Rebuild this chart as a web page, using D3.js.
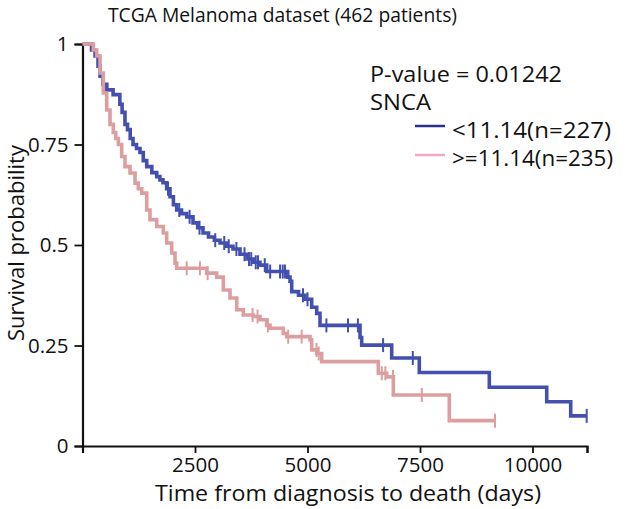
<!DOCTYPE html>
<html>
<head>
<meta charset="utf-8">
<script src="https://cdn.jsdelivr.net/npm/d3@7"></script>
<style>
  body { margin: 0; background: #fff; }
  text { font-family: "Open Sans", "Noto Sans", sans-serif; fill: #111; }
</style>
</head>
<body>
<svg id="chart" width="628" height="509"></svg>
<script>
// ---- data ----
const title = "TCGA Melanoma dataset (462 patients)";
const xLabel = "Time from diagnosis to death (days)";
const yLabel = "Survival probability";
const pValueText = "P-value = 0.01242";
const geneName = "SNCA";
const groupLabels = ["<11.14(n=227)", ">=11.14(n=235)"];

const xTicks = [0, 2500, 5000, 7500, 10000];
const xTickLabels = ["", "2500", "5000", "7500", "10000"];
const yTicks = [0, 0.25, 0.5, 0.75, 1];
const yTickLabels = ["0", "0.25", "0.5", "0.75", "1"];

// low expression group (blue): step times (days) and survival
const lowTimes = [0, 200, 280, 345, 390, 455, 540, 680, 830, 880, 944, 1000, 1060, 1122, 1200, 1278, 1350, 1427, 1540, 1649, 1720, 1789, 1870, 1944, 2020, 2093, 2200, 2316, 2456, 2560, 2678, 2800, 2930, 3056, 3200, 3344, 3500, 3656, 3800, 3944, 4093, 4560, 4611, 4649, 4800, 4944, 5093, 5204, 5278, 6167, 6204, 6871, 7484, 9040, 10316, 10849, 11204];
const lowSurv  = [1.0, 0.985, 0.97, 0.945, 0.92, 0.90, 0.886, 0.874, 0.85, 0.83, 0.80, 0.787, 0.765, 0.75, 0.74, 0.73, 0.71, 0.695, 0.68, 0.67, 0.662, 0.655, 0.64, 0.62, 0.60, 0.587, 0.578, 0.57, 0.555, 0.543, 0.53, 0.52, 0.512, 0.505, 0.497, 0.49, 0.477, 0.465, 0.457, 0.45, 0.434, 0.42, 0.41, 0.384, 0.375, 0.365, 0.345, 0.33, 0.30, 0.27, 0.251, 0.219, 0.183, 0.146, 0.110, 0.075, 0.075];
const lowCensor = [1900, 2150, 2380, 2600, 2950, 3150, 3250, 3420, 3600, 3700, 3750, 3850, 3900, 4050, 4170, 4390, 4450, 4500, 4900, 5000, 5420, 5900, 6120, 6680, 7340, 11204];

// high expression group (pink)
const highTimes = [0, 240, 316, 389, 462, 538, 611, 684, 740, 796, 871, 944, 1056, 1167, 1240, 1316, 1427, 1500, 1649, 1796, 1871, 1982, 2056, 2093, 2760, 2982, 3129, 3278, 3427, 3573, 3796, 3944, 4093, 4167, 4462, 4538, 5056, 5093, 5204, 5316, 6573, 6760, 6907, 8151, 9167];
const highSurv  = [1.0, 0.985, 0.97, 0.928, 0.878, 0.836, 0.80, 0.78, 0.765, 0.75, 0.72, 0.695, 0.679, 0.654, 0.64, 0.629, 0.587, 0.563, 0.546, 0.53, 0.505, 0.48, 0.455, 0.442, 0.43, 0.42, 0.388, 0.368, 0.339, 0.326, 0.322, 0.314, 0.30, 0.293, 0.28, 0.272, 0.264, 0.239, 0.23, 0.21, 0.181, 0.172, 0.127, 0.063, 0.063];
const highCensor = [2316, 2610, 2780, 3780, 3890, 4120, 4570, 4870, 5200, 5250, 6650, 6730, 6900, 7540, 9167];

// ---- drawing ----
const svg = d3.select("#chart");
const x = d3.scaleLinear().domain([0, 11211]).range([82.5, 587]);
const y = d3.scaleLinear().domain([0, 1]).range([446, 44]);

const blue = "#4350b0";
const pink = "#dc9e9e";

svg.append("text").attr("x", 108).attr("y", 22)
  .attr("textLength", 349).attr("lengthAdjust", "spacingAndGlyphs")
  .style("font-size", "20.5px").text(title);

// axes
const yAxis = d3.axisLeft(y).tickValues(yTicks).tickSize(8).tickPadding(6)
  .tickFormat((d, i) => yTickLabels[i]);
const gy = svg.append("g").attr("transform", `translate(${x(0)},0)`).call(yAxis);
const xAxis = d3.axisBottom(x).tickValues(xTicks.concat([11211])).tickSize(7).tickPadding(4)
  .tickFormat((d, i) => i < xTickLabels.length ? xTickLabels[i] : "");
const gx = svg.append("g").attr("transform", `translate(0,${y(0)})`).call(xAxis);
[gx, gy].forEach(g => {
  g.select(".domain").attr("stroke", "#111").attr("stroke-width", 2.2);
  g.selectAll(".tick line").attr("stroke", "#111").attr("stroke-width", 1.8);
  g.selectAll(".tick text").style("font-size", "20.5px").style("font-family", '"Open Sans", sans-serif').attr("fill", "#111");
});

svg.append("text").attr("transform", `translate(24,243) rotate(-90)`).attr("text-anchor", "middle")
  .style("font-size", "22px").text(yLabel);
svg.append("text").attr("x", 155).attr("y", 501)
  .attr("textLength", 386).attr("lengthAdjust", "spacingAndGlyphs")
  .style("font-size", "22px").text(xLabel);

// curves
function stepAt(times, surv, t) {
  let v = surv[0];
  for (let i = 0; i < times.length; i++) { if (times[i] <= t) v = surv[i]; }
  return v;
}
const line = d3.line().x(d => x(d[0])).y(d => y(d[1])).curve(d3.curveStepAfter);
function drawGroup(times, surv, censor, color) {
  const pts = times.map((t, i) => [t, surv[i]]);
  svg.append("path").datum(pts).attr("d", line).attr("fill", "none")
    .attr("stroke", color).attr("stroke-width", 3.6).attr("stroke-linejoin", "miter");
  svg.append("g").selectAll("line").data(censor).join("line")
    .attr("x1", d => x(d)).attr("x2", d => x(d))
    .attr("y1", d => y(stepAt(times, surv, d)) - 7)
    .attr("y2", d => y(stepAt(times, surv, d)) + 7)
    .attr("stroke", color).attr("stroke-width", 2);
}
drawGroup(lowTimes, lowSurv, lowCensor, blue);
drawGroup(highTimes, highSurv, highCensor, pink);

// legend
svg.append("text").attr("x", 370).attr("y", 81.5)
  .attr("textLength", 192).attr("lengthAdjust", "spacingAndGlyphs")
  .style("font-size", "21.5px").text(pValueText);
svg.append("text").attr("x", 370).attr("y", 110)
  .attr("textLength", 61).attr("lengthAdjust", "spacingAndGlyphs")
  .style("font-size", "21.5px").text(geneName);
const legColors = ["#27308f", "#f2a6c8"];
const legTextY = [137.5, 165.5];
const legLineY = [126, 155];
const legTextLen = [159, 161];
groupLabels.forEach((lab, i) => {
  svg.append("line").attr("x1", 415).attr("x2", 445).attr("y1", legLineY[i]).attr("y2", legLineY[i])
    .attr("stroke", legColors[i]).attr("stroke-width", 2.5);
  svg.append("text").attr("x", 452).attr("y", legTextY[i])
    .attr("textLength", legTextLen[i]).attr("lengthAdjust", "spacingAndGlyphs")
    .style("font-size", "22px").text(lab);
});
</script>
</body>
</html>
